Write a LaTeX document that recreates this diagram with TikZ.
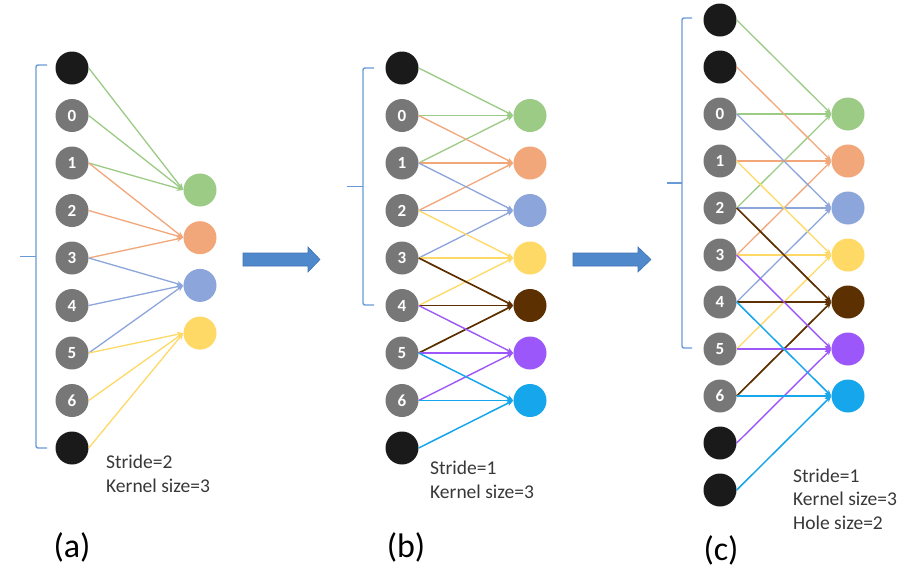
\documentclass[tikz,border=0pt]{standalone}
\usepackage{fontspec}
\setmainfont{Carlito}
\usetikzlibrary{arrows.meta}
\definecolor{cgreen}{HTML}{9CCB86}
\definecolor{corange}{HTML}{F2A77A}
\definecolor{cblue}{HTML}{8CA5DB}
\definecolor{cyellow}{HTML}{FFD965}
\definecolor{cbrown}{HTML}{5C3000}
\definecolor{cpurple}{HTML}{9C57FA}
\definecolor{ccyan}{HTML}{16A6EC}
\definecolor{nblack}{HTML}{1A1A1A}
\definecolor{ngray}{HTML}{777777}
\definecolor{bracecol}{HTML}{6A9AD6}
\definecolor{fatfill}{HTML}{4F89CC}
\definecolor{fatedge}{HTML}{3F74B4}
\definecolor{txtcol}{HTML}{383838}
\begin{document}
\begin{tikzpicture}[x=1pt,y=-1pt,
  blk/.style={circle, fill=nblack, minimum size=33pt, inner sep=0pt},
  gry/.style={circle, fill=ngray, text=white, font=\bfseries\fontsize{17}{17}\selectfont, minimum size=33pt, inner sep=0pt},
  outn/.style={circle, minimum size=33pt, inner sep=0pt},
  conn/.style={-{Stealth[length=6.5pt,width=5.5pt]}, line width=1.3pt},
  bracepath/.style={draw=bracecol, line width=1.4pt, rounded corners=2pt},
  fatarrow/.style={fill=fatfill, draw=fatedge, line width=0.6pt},
  txt/.style={text=txtcol, font=\fontsize{19.5}{23.5}\selectfont, align=left, inner sep=0pt},
  lab/.style={text=black, font=\fontsize{34}{36}\selectfont, inner sep=0pt}
]
\useasboundingbox[fill=white] (0,0) rectangle (922,587);

% ---------- braces ----------
\draw[bracepath] (47,65) -- (36,65) -- (36,448) -- (47,448);
\draw[bracepath] (36,256.5) -- (20,256.5);
\draw[bracepath] (374,68) -- (363,68) -- (363,305) -- (374,305);
\draw[bracepath] (363,186.5) -- (347,186.5);
\draw[bracepath] (692,18) -- (682,18) -- (682,348) -- (692,348);
\draw[bracepath] (682,183) -- (667,183);

% ---------- panel (a) ----------
\foreach \i in {0,...,8}{
  \pgfmathsetmacro\yy{68+47.5*\i}
  \pgfmathtruncatemacro\lab{\i-1}
  \ifnum\i=0 \node[blk] (a\i) at (72,\yy) {};
  \else\ifnum\i=8 \node[blk] (a\i) at (72,\yy) {};
  \else \node[gry] (a\i) at (72,\yy) {\lab};
  \fi\fi
}
\foreach \j/\c in {0/cgreen,1/corange,2/cblue,3/cyellow}{
  \node[outn, fill=\c] (ao\j) at (200,{190+47.7*\j}) {};
}
\foreach \j/\c in {0/cgreen,1/corange,2/cblue,3/cyellow}{
  \foreach \d in {0,1,2}{
    \pgfmathtruncatemacro\k{2*\j+\d}
    \draw[conn,\c] (a\k.east) -- (ao\j.west);
  }
}

% ---------- panel (b) ----------
\foreach \i in {0,...,8}{
  \pgfmathsetmacro\yy{68+47.5*\i}
  \pgfmathtruncatemacro\lab{\i-1}
  \ifnum\i=0 \node[blk] (b\i) at (402,\yy) {};
  \else\ifnum\i=8 \node[blk] (b\i) at (402,\yy) {};
  \else \node[gry] (b\i) at (402,\yy) {\lab};
  \fi\fi
}
\foreach \j/\c in {0/cgreen,1/corange,2/cblue,3/cyellow,4/cbrown,5/cpurple,6/ccyan}{
  \node[outn, fill=\c] (bo\j) at (530,{68+47.5*(\j+1)}) {};
}
\foreach \j/\c/\w in {0/cgreen/1.3,1/corange/1.3,2/cblue/1.3,3/cyellow/1.3,4/cbrown/1.7,5/cpurple/1.4,6/ccyan/1.5}{
  \foreach \d in {0,1,2}{
    \pgfmathtruncatemacro\k{\j+\d}
    \draw[conn,\c,line width=\w pt] (b\k.east) -- (bo\j.west);
  }
}

% ---------- panel (c) ----------
\foreach \i in {0,...,10}{
  \pgfmathsetmacro\yy{20+47*\i}
  \pgfmathtruncatemacro\lab{\i-2}
  \ifnum\i<2 \node[blk] (c\i) at (720,\yy) {};
  \else\ifnum\i>8 \node[blk] (c\i) at (720,\yy) {};
  \else \node[gry] (c\i) at (720,\yy) {\lab};
  \fi\fi
}
\foreach \j/\c in {0/cgreen,1/corange,2/cblue,3/cyellow,4/cbrown,5/cpurple,6/ccyan}{
  \node[outn, fill=\c] (co\j) at (848,{20+47*(\j+2)}) {};
}
\foreach \j/\c/\w in {0/cgreen/1.3,1/corange/1.3,2/cblue/1.3,3/cyellow/1.3,4/cbrown/1.7,5/cpurple/1.4,6/ccyan/1.5}{
  \foreach \d in {0,2,4}{
    \pgfmathtruncatemacro\k{\j+\d}
    \draw[conn,\c,line width=\w pt] (c\k.east) -- (co\j.west);
  }
}

% ---------- fat arrows ----------
\draw[fatarrow] (243,253) -- (308,253) -- (308,247) -- (320,259.5) -- (308,272) -- (308,266) -- (243,266) -- cycle;
\draw[fatarrow] (573,253) -- (638,253) -- (638,247) -- (651,259.5) -- (638,272) -- (638,266) -- (573,266) -- cycle;

% ---------- texts ----------
\node[txt, anchor=north west] (ta) at (106,455) {Stride=2\\Kernel size=3};
\node[txt, anchor=north west] (tb) at (430,461) {Stride=1\\Kernel size=3};
\node[txt, anchor=north west] (tc) at (793,468.5) {Stride=1\\Kernel size=3\\Hole size=2};

\node[lab] (la) at (72,547) {(a)};
\node[lab] (lb) at (406,547) {(b)};
\node[lab] (lc) at (721,550) {(c)};
\end{tikzpicture}
\end{document}
